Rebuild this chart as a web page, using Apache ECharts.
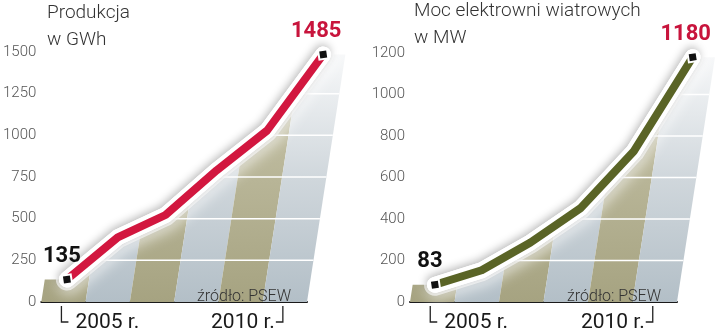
<!DOCTYPE html>
<html><head><meta charset="utf-8">
<script src="https://cdn.jsdelivr.net/npm/echarts@6/dist/echarts.min.js"></script>
<style>html,body{margin:0;padding:0;background:#fff}#c{width:720px;height:336px}</style>
</head><body><div id="c"></div>
<script>
const years = [2005, 2006, 2007, 2008, 2009, 2010];
const productionGWh = [135, 388, 522, 790, 1029, 1485];
const capacityMW = [83, 153, 287, 451, 725, 1180];
const productionTicks = [0, 250, 500, 750, 1000, 1250, 1500];
const capacityTicks = [0, 200, 400, 600, 800, 1000, 1200];
const productionTitle = 'Produkcja\nw GWh';
const capacityTitle = 'Moc elektrowni wiatrowych\nw MW';
const yearLabels = ['2005 r.', '2010 r.'];
const yearLabelIndex = [0, 5];
const sourceText = 'źródło: PSEW';

const K = 0.155; // perspective lean of the columns
const panels = [
  { vals: productionGWh, ticks: productionTicks, title: productionTitle, lineColor: '#d2173f',
    grid: { left: 40, right: 413, top: 52, bottom: 34 }, titlePos: { left: 47, top: 0 }, srcPos: [197, 289] },
  { vals: capacityMW, ticks: capacityTicks, title: capacityTitle, lineColor: '#5a6426',
    grid: { left: 410, right: 43, top: 53, bottom: 34 }, titlePos: { left: 414, top: -2 }, srcPos: [567, 289] }
];

const chart = echarts.init(document.getElementById('c'), null, { renderer: 'canvas' });

const grids = [], xAxes = [], yAxes = [], series = [], titles = [], graphics = [];

panels.forEach((p, gi) => {
  const n = p.vals.length;
  const yMax = p.ticks[p.ticks.length - 1];
  const topAt = u => {
    if (u <= 0) return p.vals[0];
    if (u >= n - 1) return p.vals[n - 1];
    const i = Math.floor(u), t = u - i;
    return p.vals[i] * (1 - t) + p.vals[i + 1] * t;
  };
  const sh = (api, d) => {
    const c = api.coord(d);
    const y0 = api.coord([0, 0])[1];
    return [c[0] + K * (y0 - c[1]), c[1]];
  };

  grids.push(p.grid);
  xAxes.push({
    type: 'value', gridIndex: gi, min: -0.5, max: n - 0.5,
    axisLine: { show: true, lineStyle: { color: '#1a1a1a', width: 2 } },
    axisTick: { show: false }, axisLabel: { show: false }, splitLine: { show: false }
  });
  yAxes.push({
    type: 'value', gridIndex: gi, min: 0, max: yMax, interval: p.ticks[1] - p.ticks[0],
    axisLine: { show: false }, axisTick: { show: false }, splitLine: { show: false },
    axisLabel: { color: '#555', fontSize: 15, fontFamily: 'Roboto', fontWeight: 300, margin: 5,
      formatter: v => String(v) }
  });

  // columns (bands)
  series.push({
    type: 'custom', xAxisIndex: gi, yAxisIndex: gi, z: 1, silent: true,
    data: years.map((y, i) => [i]),
    renderItem(params, api) {
      const i = params.dataIndex;
      const pts = [[i - 0.5, 0], [i + 0.5, 0], [i + 0.5, topAt(i + 0.5)], [i, p.vals[i]], [i - 0.5, topAt(i - 0.5)]]
        .map(d => sh(api, d));
      const y0 = api.coord([0, 0])[1], y1 = api.coord([0, yMax])[1];
      const olive = i % 2 === 0;
      const stops = olive
        ? [{ offset: 0, color: '#a6a381' }, { offset: 0.6, color: '#bcb99c' }, { offset: 1, color: '#dddbca' }]
        : [{ offset: 0, color: '#b3bfc7' }, { offset: 0.5, color: '#d0d7dc' }, { offset: 1, color: '#f8f9fa' }];
      return {
        type: 'polygon', shape: { points: pts },
        style: { fill: new echarts.graphic.LinearGradient(0, y0, 0, y1, stops, true), stroke: null }
      };
    }
  });

  // white grid lines over the columns
  series.push({
    type: 'custom', xAxisIndex: gi, yAxisIndex: gi, z: 2, silent: true,
    data: p.ticks.slice(1).map(t => [0, t]),
    renderItem(params, api) {
      const t = p.ticks[params.dataIndex + 1];
      const a = api.coord([-0.5, t]);
      const b = sh(api, [n - 0.5, t]);
      return { type: 'line', shape: { x1: a[0], y1: a[1], x2: b[0], y2: b[1] },
        style: { stroke: '#ffffff', lineWidth: 1.5 } };
    }
  });

  // the line
  series.push({
    type: 'custom', xAxisIndex: gi, yAxisIndex: gi, z: 3, silent: true,
    data: [[0, p.vals[0]]],
    renderItem(params, api) {
      const pts = p.vals.map((v, i) => sh(api, [i, v]));
      return {
        type: 'group', children: [
          { type: 'polyline', shape: { points: pts },
            style: { stroke: 'rgba(255,255,255,0.7)', lineWidth: 22, fill: null, lineJoin: 'round', lineCap: 'round',
              shadowBlur: 14, shadowColor: 'rgba(255,255,255,0.9)', shadowOffsetX: 2, shadowOffsetY: 4 } },
          { type: 'polyline', shape: { points: pts },
            style: { stroke: '#ffffff', lineWidth: 16, fill: null, lineJoin: 'round', lineCap: 'round',
              shadowBlur: 9, shadowColor: 'rgba(0,0,0,0.28)', shadowOffsetX: -1, shadowOffsetY: -2 } },
          { type: 'polyline', shape: { points: pts },
            style: { stroke: '#ffffff', lineWidth: 16, fill: null, lineJoin: 'round', lineCap: 'round' } },
          { type: 'polyline', shape: { points: pts },
            style: { stroke: p.lineColor, lineWidth: 8, fill: null, lineJoin: 'round', lineCap: 'butt' } }
        ]
      };
    }
  });

  // end markers and value labels
  series.push({
    type: 'custom', xAxisIndex: gi, yAxisIndex: gi, z: 4, silent: true,
    data: [[0, p.vals[0]], [n - 1, p.vals[n - 1]]],
    renderItem(params, api) {
      const idx = params.dataIndex === 0 ? 0 : n - 1;
      const pt = sh(api, [idx, p.vals[idx]]);
      const last = idx === n - 1;
      return {
        type: 'group', children: [
          { type: 'rect', x: pt[0], y: pt[1], rotation: 0.15,
            shape: { x: -4.5, y: -4.5, width: 9, height: 9 },
            style: { fill: '#111', stroke: '#fff', lineWidth: 2 } },
          { type: 'text', x: pt[0] - (last ? 7 : 5), y: pt[1] - 23,
            style: { text: String(p.vals[idx]), fill: last ? '#c8143c' : '#111',
              font: 'bold 22px Roboto', textAlign: 'center', textVerticalAlign: 'middle' } }
        ]
      };
    }
  });

  // year brackets and labels
  series.push({
    type: 'custom', xAxisIndex: gi, yAxisIndex: gi, z: 4, silent: true,
    data: yearLabelIndex.map(i => [i, 0]),
    renderItem(params, api) {
      const k = params.dataIndex;
      const idx = yearLabelIndex[k];
      const b = api.coord([idx, 0]);
      const x = b[0] - 2, y0 = b[1];
      const first = k === 0;
      const hx = first ? x + 7 : x - 7;
      return {
        type: 'group', children: [
          { type: 'polyline', shape: { points: [[x, y0 + 4], [x, y0 + 20], [hx, y0 + 20]] },
            style: { stroke: '#222', lineWidth: 1.3, fill: null } },
          { type: 'text', x: first ? x + 14 : x - 8, y: y0 + 21,
            style: { text: yearLabels[k], fill: '#1a1a1a', font: '21px Roboto',
              textAlign: first ? 'left' : 'right', textVerticalAlign: 'middle' } }
        ]
      };
    }
  });

  titles.push({
    text: p.title, left: p.titlePos.left, top: p.titlePos.top, padding: 0,
    textStyle: { fontFamily: 'Roboto', fontWeight: 300, fontSize: 19, lineHeight: 27, color: '#333' }
  });
  graphics.push({
    type: 'text', left: p.srcPos[0], top: p.srcPos[1], z: 10,
    style: { text: sourceText, fill: '#333', font: '300 16px Roboto' }
  });
});

chart.setOption({
  animation: false,
  backgroundColor: '#ffffff',
  title: titles,
  grid: grids,
  xAxis: xAxes,
  yAxis: yAxes,
  series: series,
  graphic: graphics
});
</script>
</body></html>
